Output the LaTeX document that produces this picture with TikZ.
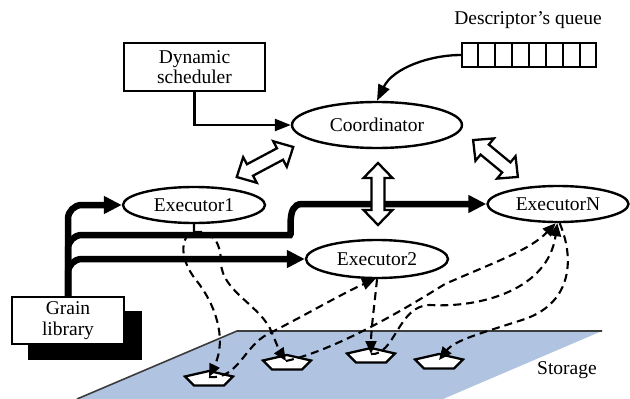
\documentclass[tikz,border=0pt]{standalone}
\usepackage{fontspec}
\setmainfont{Liberation Serif}
\usetikzlibrary{arrows.meta,calc,shapes.geometric}

\definecolor{storagefill}{RGB}{176,196,226}
\definecolor{edgegray}{RGB}{60,60,60}

\tikzset{
  every node/.style={font=\fontsize{19.5}{20.5}\selectfont},
  box/.style={draw, line width=2.5pt, fill=white, inner sep=0pt, align=center},
  exec/.style={ellipse, draw, line width=2.4pt, inner sep=0pt, fill=white},
  thinarrow/.style={line width=2.3pt, -{Triangle[length=16pt,width=12pt]}},
  feed/.style={line width=6.5pt, -{Triangle[length=18pt,width=17pt]}},
  io/.style={line width=2.1pt, dash pattern=on 8pt off 5pt,
             -{Triangle[length=13pt,width=11pt]}},
  slabline/.style={draw, line width=2.3pt, fill=white, line join=miter},
  hollow/.style={draw, line width=2.3pt, fill=white, line join=miter},
  % flat pentagon lying on the storage plane
  pics/slab/.style={code={
    \draw[slabline] (0,-8) -- (24,-2.5) -- (15,6.5) -- (-15,6.5) -- (-24,-2.5) -- cycle;
  }},
  % hollow block arrow with heads at both ends, total length #1
  pics/twoway/.style={code={
    \draw[hollow] (-#1/2,0) -- (-#1/2+15,14.5) -- (-#1/2+15,6.5) -- (#1/2-15,6.5)
      -- (#1/2-15,14.5) -- (#1/2,0) -- (#1/2-15,-14.5) -- (#1/2-15,-6.5)
      -- (-#1/2+15,-6.5) -- (-#1/2+15,-14.5) -- cycle;
  }},
}

\begin{document}
\begin{tikzpicture}[x=1pt,y=-1pt]
\useasboundingbox (0,0) rectangle (630,399);

% storage plane
\fill[storagefill] (237,331) -- (602,331) -- (443,399) -- (77,399) -- cycle;
\draw[line width=1.6pt, edgegray] (77,399) -- (237,331) -- (602,331);
\node (st) at (567,370) {Storage};

% data slabs on the storage
\pic at (209,379) {slab}; \coordinate (p1) at (209,377);
\pic at (287,363) {slab}; \coordinate (p2) at (286,361);
\pic at (371,356) {slab}; \coordinate (p3) at (371,354);
\pic at (439,362) {slab}; \coordinate (p4) at (439,360);

% boxes
\node[box, minimum width=141pt, minimum height=48pt] (ds) at (194.5,67) {Dynamic\\scheduler};
\fill (28,311) rectangle (142,360);
\node[box, minimum width=112pt, minimum height=47pt] (gl) at (68,320.5) {Grain\\library};

% descriptor queue
\node (ql) at (528,20) {Descriptor’s queue};
\node[draw, line width=2.3pt, minimum width=134pt, minimum height=24pt, inner sep=0pt] (q) at (529,55) {};
\foreach \i in {1,...,7}
  \draw[line width=2.3pt] ($(q.north west)!\i/8!(q.north east)$) -- ($(q.south west)!\i/8!(q.south east)$);

% coordinator and executors
\node[exec, minimum width=170pt, minimum height=46pt] (co) at (377,125) {Coordinator};
\node[exec, minimum width=142pt, minimum height=36pt] (e1) at (194,205) {Executor1};
\node[exec, minimum width=142pt, minimum height=38pt] (e2) at (377,259) {Executor2};
\node[exec, minimum width=141pt, minimum height=36pt] (en) at (558,204) {ExecutorN};

% control inputs of the coordinator
\draw[thinarrow] (ds.south) |- (co.west);
\draw[thinarrow] (q.west) .. controls (430,55) and (393,68) .. (co.north);

% grains delivered from the library
\draw[feed, rounded corners=14pt] (gl.north) |- (e1.west);
\draw[feed, rounded corners=14pt] (gl.north) |- (e2.west);
\draw[feed] (gl.north) [rounded corners=14pt] |- (276,235) [sharp corners]
  .. controls (293,235) and (285,204) .. (302,204) -- (en.west);

% coordinator <-> executors
\pic[rotate=28] at (265,162) {twoway=64};
\pic[rotate=90] at (378,194) {twoway=62};
\pic[rotate=-39.5] at (495.5,158.5) {twoway=58};

% data flow between executors and storage
\draw[io] (e1.south) -- ++(0,8) .. controls (182,234) and (177,256) .. (196,280)
  .. controls (214,302) and (228,338) .. (p1);
\draw[io] ($(e1.south)+(0,8)$) .. controls (214,229) and (221,245) .. (221,263)
  .. controls (222,292) and (262,306) .. (272,333)
  .. controls (277,345) and (280,352) .. (p2);
\draw[io] (p1) .. controls (238,380) and (244,346) .. (268,334)
  .. controls (300,318) and (345,292) .. (e2.265);
\draw[io] (e2.south) .. controls (375,300) and (371,330) .. (p3);
\draw[io] (p2) .. controls (335,350) and (400,312) .. (445,284)
  .. controls (495,262) and (530,250) .. (en.263);
\draw[io] (p3) .. controls (395,356) and (398,305) .. (430,305)
  .. controls (480,308) and (548,290) .. (en.268);
\draw[io] (en.275) .. controls (576,262) and (570,305) .. (522,320)
  .. controls (482,333) and (455,340) .. (p4);
\end{tikzpicture}
\end{document}
